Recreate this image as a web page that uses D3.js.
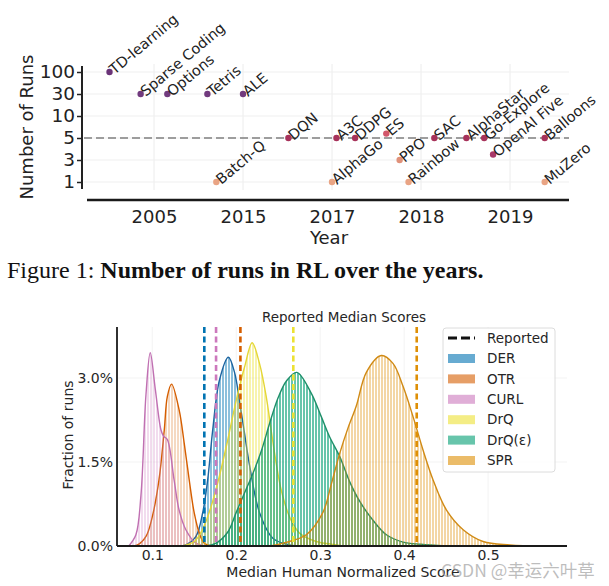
<!DOCTYPE html>
<html><head><meta charset="utf-8">
<script src="https://cdn.jsdelivr.net/npm/d3@7"></script>
<style>body{margin:0;background:#fff}svg{display:block}</style>
</head><body>
<script>
// ---------- Top chart data ----------
const runNames = ["TD-learning","Sparse Coding","Options","Tetris","Batch-Q","ALE","DQN","AlphaGo","A3C","DDPG","ES","PPO","Rainbow","SAC","AlphaStar","Go-Explore","OpenAI Five","Balloons","MuZero"];
const runPos   = [-0.50,-0.15,0.15,0.60,0.70,1.00,1.51,2.00,2.05,2.26,2.61,2.76,2.86,3.15,3.51,3.71,3.81,4.39,4.39];
const runCount = [100,30,30,30,1,30,5,1,5,5,6,3,1,5,5,5,3.5,5,1];
const yearLabels = ["2005","2015","2017","2018","2019"];
const runTicks = [1,3,5,10,30,100];
const referenceRuns = 5;

// ---------- Bottom chart data ----------
const seriesNames = ["DER","OTR","CURL","DrQ","DrQ(\u03b5)","SPR"];
const derX  = [0.130,0.140,0.152,0.160,0.166,0.172,0.180,0.1907,0.198,0.2038,0.210,0.2158,0.2277,0.2436,0.2635,0.280];
const derY  = [0,0.02,0.17,0.59,1.18,2.07,2.96,3.37,3.1,2.6,2.0,1.45,0.6,0.14,0.02,0];
const otrX  = [0.075,0.0825,0.0925,0.100,0.108,0.1143,0.118,0.123,0.132,0.138,0.144,0.150,0.156,0.162,0.172];
const otrY  = [0,0.02,0.17,0.52,1.18,2.07,2.67,2.89,2.43,1.84,1.18,0.59,0.23,0.05,0];
const curlX = [0.072,0.0805,0.0865,0.0925,0.0976,0.1036,0.1104,0.1135,0.118,0.126,0.132,0.140,0.152,0.165];
const curlY = [0,0.2,0.9,2.7,3.45,2.8,2.07,1.96,1.9,1.18,0.64,0.29,0.05,0];
const drqX  = [0.135,0.150,0.160,0.170,0.180,0.190,0.200,0.210,0.219,0.2277,0.2357,0.2416,0.2476,0.2536,0.2635,0.2754,0.2953,0.315,0.33];
const drqY  = [0,0.08,0.3,0.7,1.25,1.9,2.6,3.2,3.63,3.26,2.67,2.07,1.48,1.0,0.52,0.23,0.08,0.03,0];
const drqeX = [0.165,0.176,0.190,0.200,0.210,0.220,0.230,0.240,0.250,0.260,0.2722,0.2893,0.3013,0.3112,0.3232,0.3351,0.347,0.3629,0.3789,0.3987,0.42,0.45];
const drqeY = [0,0.05,0.25,0.6,0.95,1.3,1.7,2.2,2.65,2.95,3.1,2.73,2.31,1.95,1.6,1.15,0.8,0.46,0.2,0.07,0.03,0];
const sprX  = [0.24,0.2556,0.2834,0.3033,0.3132,0.3232,0.333,0.343,0.355,0.3728,0.3867,0.3987,0.4106,0.4226,0.4345,0.4505,0.4703,0.494,0.526,0.565];
const sprY  = [0,0.05,0.2,0.6,1.1,1.65,2.1,2.5,3.1,3.4,3.26,2.85,2.31,1.71,1.18,0.64,0.29,0.08,0.02,0];
const reportedNames = ["DER","CURL","OTR","DrQ","SPR"];
const reportedScore = [0.162,0.176,0.205,0.268,0.415];
const pctTicks = [0,1.5,3.0];
const scoreTicks = [0.1,0.2,0.3,0.4,0.5];

// ---------- Styles ----------
const FONT = "DejaVu Sans, sans-serif";
const seriesColor = {"DER":"#0173b2","OTR":"#d55e00","CURL":"#cc78bc","DrQ":"#ece133","DrQ(\u03b5)":"#029e73","SPR":"#de8f05"};
const seriesLine  = {"DER":"#1c64a0","OTR":"#d55e00","CURL":"#c070b2","DrQ":"#e4d636","DrQ(\u03b5)":"#1f8f6a","SPR":"#d08a15"};
const seriesAlpha = {"DER":0.45,"OTR":0.24,"CURL":0.26,"DrQ":0.4,"DrQ(\u03b5)":0.6,"SPR":0.36};

const svg = d3.select("body").append("svg").attr("width",609).attr("height",586);

// ================= TOP CHART =================
const xTop = d3.scaleLinear().domain([0,4]).range([154,510]);
const yTop = d3.scaleLinear().domain(runTicks).range([182,160,138,116,94,72]);
const colTop = d3.scaleLinear().domain([1,3,3.5,5,6,30,100])
  .range(["#e9a484","#e0917a","#a8386a","#a7325a","#d2566a","#713a7e","#6a3378"]);

const topG = svg.append("g");
// grid
topG.append("g").selectAll("line").data(d3.range(5)).join("line")
  .attr("x1",d=>xTop(d)).attr("x2",d=>xTop(d)).attr("y1",64).attr("y2",190)
  .attr("stroke","#ececec").attr("stroke-width",1);
topG.append("g").selectAll("line").data(runTicks).join("line")
  .attr("x1",84).attr("x2",569).attr("y1",d=>yTop(d)).attr("y2",d=>yTop(d))
  .attr("stroke","#efefef").attr("stroke-width",1);
// reference dashed line
topG.append("line").attr("x1",84).attr("x2",569).attr("y1",yTop(referenceRuns)).attr("y2",yTop(referenceRuns))
  .attr("stroke","#808080").attr("stroke-width",1.6).attr("stroke-dasharray","8,4");
// y axis
const yAx = topG.append("g").attr("transform","translate(82,0)")
  .call(d3.axisLeft(yTop).tickValues(runTicks).tickFormat(d3.format("d")).tickSize(5).tickPadding(2));
yAx.select(".domain").remove();
yAx.selectAll("line").attr("stroke","#222").attr("stroke-width",1.5);
yAx.selectAll("text").attr("font-family",FONT).attr("font-size",18.5).attr("fill","#222");
topG.append("line").attr("x1",82).attr("x2",82).attr("y1",66).attr("y2",189).attr("stroke","#222").attr("stroke-width",2);
// x axis
const xAx = topG.append("g").attr("transform","translate(0,200)")
  .call(d3.axisBottom(xTop).tickValues(d3.range(5)).tickFormat(i=>yearLabels[i]).tickSize(0).tickPadding(10));
xAx.select(".domain").remove();
xAx.selectAll("text").attr("font-family",FONT).attr("font-size",18).attr("fill","#222");
topG.append("line").attr("x1",87).attr("x2",569).attr("y1",200).attr("y2",200).attr("stroke","#1a1a1a").attr("stroke-width",2.5);
// axis titles
topG.append("text").attr("x",329).attr("y",244).attr("text-anchor","middle")
  .attr("font-family",FONT).attr("font-size",18).attr("fill","#222").text("Year");
topG.append("text").attr("transform","translate(33,127) rotate(-90)").attr("text-anchor","middle")
  .attr("font-family",FONT).attr("font-size",18).attr("fill","#222").text("Number of Runs");
// points + labels
const pts = runNames.map((n,i)=>({n,p:runPos[i],c:runCount[i]}));
topG.append("g").selectAll("circle").data(pts).join("circle")
  .attr("cx",d=>xTop(d.p)).attr("cy",d=>yTop(d.c)).attr("r",3.2).attr("fill",d=>colTop(d.c));
topG.append("g").selectAll("text").data(pts).join("text")
  .attr("transform",d=>`translate(${xTop(d.p)+5},${yTop(d.c)+3}) rotate(-40)`)
  .attr("font-family",FONT).attr("font-size",14.5).attr("fill","#222").text(d=>d.n);

// caption
const cap = svg.append("text").attr("x",7).attr("y",278)
  .attr("font-family","Liberation Serif, Times New Roman, serif").attr("font-size",24).attr("fill","#111");
cap.append("tspan").text("Figure 1: ");
cap.append("tspan").attr("font-weight","bold").text("Number of runs in RL over the years.");

// ================= BOTTOM CHART =================
const xB = d3.scaleLinear().domain([0.058,0.594]).range([117,567]);
const yB = d3.scaleLinear().domain([0,3.91]).range([546,327]);
const bot = svg.append("g");
// faint grid
bot.append("g").selectAll("line").data(pctTicks).join("line")
  .attr("x1",117).attr("x2",567).attr("y1",d=>yB(d)).attr("y2",d=>yB(d)).attr("stroke","#f3f3f3");
bot.append("g").selectAll("line").data(scoreTicks).join("line")
  .attr("x1",d=>xB(d)).attr("x2",d=>xB(d)).attr("y1",327).attr("y2",546).attr("stroke","#f3f3f3");

// stripe patterns (histogram bars)
const defs = svg.append("defs");
const bin = 3;
seriesNames.forEach((s,i)=>{
  const p = defs.append("pattern").attr("id","pat"+i).attr("patternUnits","userSpaceOnUse")
    .attr("width",bin).attr("height",10).attr("x",117);
  p.append("rect").attr("x",0).attr("y",0).attr("width",bin-1).attr("height",10)
    .attr("fill",seriesColor[s]).attr("fill-opacity",seriesAlpha[s]);
});

const seriesData = [[derX,derY],[otrX,otrY],[curlX,curlY],[drqX,drqY],[drqeX,drqeY],[sprX,sprY]];
const area = d3.area().x(d=>xB(d[0])).y0(yB(0)).y1(d=>yB(Math.max(0,d[1]))).curve(d3.curveCatmullRom.alpha(0.5));
const line = d3.line().x(d=>xB(d[0])).y(d=>yB(Math.max(0,d[1]))).curve(d3.curveCatmullRom.alpha(0.5));
seriesNames.forEach((s,i)=>{
  const pts2 = seriesData[i][0].map((x,j)=>[x,seriesData[i][1][j]]);
  bot.append("path").attr("d",area(pts2)).attr("fill",`url(#pat${i})`);
  bot.append("path").attr("d",line(pts2)).attr("fill","none").attr("stroke",seriesLine[s]).attr("stroke-width",1.4);
});
// reported dashed lines
bot.append("g").selectAll("line").data(reportedNames.map((n,i)=>({n,v:reportedScore[i]}))).join("line")
  .attr("x1",d=>xB(d.v)).attr("x2",d=>xB(d.v)).attr("y1",327).attr("y2",546)
  .attr("stroke",d=>seriesColor[d.n]).attr("stroke-width",2.6).attr("stroke-dasharray","6,3.5");

// axes
const yAxB = bot.append("g").attr("transform","translate(117,0)")
  .call(d3.axisLeft(yB).tickValues(pctTicks).tickFormat(d=>d.toFixed(1)+"%").tickSize(0).tickPadding(4));
yAxB.select(".domain").remove();
yAxB.selectAll("text").attr("font-family",FONT).attr("font-size",14).attr("fill","#262626");
const xAxB = bot.append("g").attr("transform","translate(0,546)")
  .call(d3.axisBottom(xB).tickValues(scoreTicks).tickFormat(d3.format(".1f")).tickSize(0).tickPadding(4));
xAxB.select(".domain").remove();
xAxB.selectAll("text").attr("font-family",FONT).attr("font-size",14).attr("fill","#262626");
bot.append("line").attr("x1",117).attr("x2",117).attr("y1",327).attr("y2",546).attr("stroke","#1a1a1a").attr("stroke-width",1.8);
bot.append("line").attr("x1",117).attr("x2",567).attr("y1",546).attr("y2",546).attr("stroke","#1a1a1a").attr("stroke-width",1.8);

bot.append("text").attr("x",344).attr("y",322).attr("text-anchor","middle")
  .attr("font-family",FONT).attr("font-size",13.5).attr("fill","#262626").text("Reported Median Scores");
bot.append("text").attr("x",343).attr("y",577).attr("text-anchor","middle")
  .attr("font-family",FONT).attr("font-size",14).attr("fill","#262626").text("Median Human Normalized Score");
bot.append("text").attr("transform","translate(73,435) rotate(-90)").attr("text-anchor","middle")
  .attr("font-family",FONT).attr("font-size",14).attr("fill","#262626").text("Fraction of runs");

// legend
const lg = bot.append("g");
lg.append("rect").attr("x",443).attr("y",328).attr("width",112).attr("height",144).attr("rx",3)
  .attr("fill","#fff").attr("fill-opacity",0.85).attr("stroke","#dcdcdc");
lg.append("line").attr("x1",448).attr("x2",475).attr("y1",338).attr("y2",338)
  .attr("stroke","#111").attr("stroke-width",2.8).attr("stroke-dasharray","9,4");
lg.append("text").attr("x",487).attr("y",338).attr("dy","0.35em").attr("font-family",FONT).attr("font-size",13.5).attr("fill","#262626").text("Reported");
seriesNames.forEach((s,i)=>{
  const y = 358.5 + i*20.4;
  lg.append("rect").attr("x",448).attr("y",y-4.5).attr("width",27).attr("height",9)
    .attr("fill",seriesColor[s]).attr("fill-opacity",0.6);
  lg.append("text").attr("x",487).attr("y",y).attr("dy","0.35em").attr("font-family",FONT).attr("font-size",13.5).attr("fill","#262626").text(s);
});

// watermark
svg.append("text").attr("x",441).attr("y",577).attr("font-family","Noto Sans CJK SC, sans-serif")
  .attr("font-size",17.5).attr("fill","#a8a8a8").attr("fill-opacity",0.75).text("CSDN @幸运六叶草");
</script>
</body></html>
